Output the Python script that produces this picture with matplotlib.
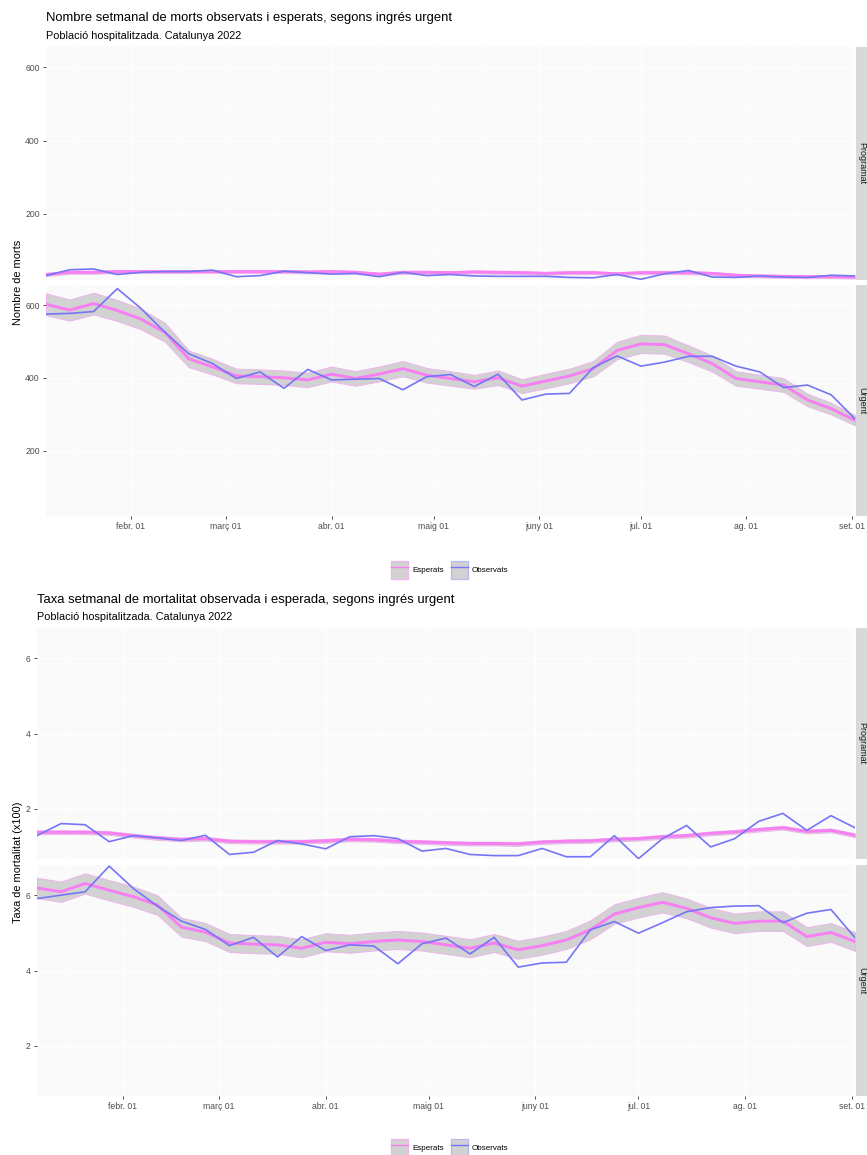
import matplotlib
matplotlib.use("Agg")
import matplotlib.pyplot as plt
from matplotlib.patches import Patch, Rectangle
from matplotlib.lines import Line2D
from matplotlib.legend_handler import HandlerTuple
import pandas as pd

# ---------------- data ----------------
start_date = "2022-01-07"
n_weeks = 35
tick_dates = ["2022-02-01", "2022-03-01", "2022-04-01", "2022-05-01",
              "2022-06-01", "2022-07-01", "2022-08-01", "2022-09-01"]
tick_labels = ["febr. 01", "març 01", "abr. 01", "maig 01",
               "juny 01", "jul. 01", "ag. 01", "set. 01"]
facets = ["Programat", "Urgent"]

# Chart 1: weekly deaths
deaths_prog_obs = [32, 48, 50, 35, 41, 43, 43, 47, 29, 32, 44, 40, 36, 38, 29, 41, 32, 35,
                   31, 30, 30, 30, 27, 26, 35, 22, 37, 46, 28, 27, 31, 28, 27, 33, 31]
deaths_prog_exp = [35, 41, 41, 43, 43, 43, 43, 43, 43, 43, 43, 42, 43, 41, 36, 41, 41, 40,
                   42, 41, 40, 38, 40, 40, 37, 40, 40, 40, 38, 33, 31, 30, 29, 29, 28]
deaths_prog_lo = [31, 37, 37, 39, 39, 39, 39, 39, 39, 39, 39, 38, 39, 37, 32, 37, 37, 36,
                  38, 37, 36, 34, 36, 36, 33, 36, 36, 36, 34, 29, 27, 26, 25, 25, 24]
deaths_prog_hi = [39, 45, 45, 47, 47, 47, 47, 47, 47, 47, 47, 46, 47, 45, 40, 45, 45, 44,
                  46, 45, 44, 42, 44, 44, 41, 44, 44, 44, 42, 37, 35, 34, 33, 33, 32]

deaths_urg_obs = [575, 577, 582, 645, 590, 525, 466, 439, 398, 416, 371, 423, 394, 396, 398,
                  367, 403, 409, 376, 410, 339, 355, 357, 428, 460, 432, 443, 459, 459, 432,
                  416, 373, 380, 353, 287]
deaths_urg_exp = [602, 586, 604, 585, 561, 525, 452, 430, 405, 403, 400, 394, 410, 398, 410,
                  425, 407, 398, 389, 400, 377, 391, 405, 425, 475, 493, 491, 466, 439, 398,
                  389, 380, 339, 315, 283]
deaths_urg_lo = [572, 557, 574, 556, 533, 499, 429, 409, 385, 383, 380, 374, 390, 378, 390,
                 404, 387, 378, 370, 380, 358, 371, 385, 404, 451, 468, 466, 443, 417, 378,
                 370, 361, 322, 299, 269]
deaths_urg_hi = [632, 615, 634, 614, 589, 551, 475, 452, 425, 423, 420, 414, 431, 418, 431,
                 446, 427, 418, 408, 420, 396, 411, 425, 446, 499, 518, 516, 489, 461, 418,
                 408, 399, 356, 331, 297]

# Chart 2: weekly mortality rate (x100)
rate_prog_obs = [1.29, 1.61, 1.58, 1.13, 1.29, 1.23, 1.16, 1.30, 0.79, 0.85, 1.16, 1.07,
                 0.94, 1.26, 1.29, 1.21, 0.88, 0.95, 0.79, 0.76, 0.76, 0.95, 0.73, 0.73,
                 1.29, 0.68, 1.21, 1.56, 0.99, 1.21, 1.67, 1.88, 1.43, 1.82, 1.50]
rate_prog_exp = [1.38, 1.38, 1.38, 1.36, 1.29, 1.23, 1.19, 1.21, 1.14, 1.13, 1.13, 1.13,
                 1.15, 1.19, 1.18, 1.14, 1.12, 1.10, 1.08, 1.08, 1.07, 1.12, 1.14, 1.15,
                 1.19, 1.21, 1.26, 1.29, 1.35, 1.39, 1.45, 1.50, 1.40, 1.43, 1.30]
rate_prog_lo = [1.33, 1.33, 1.33, 1.31, 1.24, 1.18, 1.14, 1.16, 1.09, 1.08, 1.08, 1.08,
                1.10, 1.14, 1.13, 1.09, 1.07, 1.05, 1.03, 1.03, 1.02, 1.07, 1.09, 1.10,
                1.14, 1.16, 1.21, 1.24, 1.30, 1.34, 1.40, 1.45, 1.35, 1.38, 1.25]
rate_prog_hi = [1.43, 1.43, 1.43, 1.41, 1.34, 1.28, 1.24, 1.26, 1.19, 1.18, 1.18, 1.18,
                1.20, 1.24, 1.23, 1.19, 1.17, 1.15, 1.13, 1.13, 1.12, 1.17, 1.19, 1.20,
                1.24, 1.26, 1.31, 1.34, 1.40, 1.44, 1.50, 1.55, 1.45, 1.48, 1.35]

rate_urg_obs = [5.91, 6.00, 6.09, 6.77, 6.18, 5.71, 5.31, 5.09, 4.66, 4.88, 4.36, 4.90,
                4.53, 4.68, 4.65, 4.18, 4.71, 4.86, 4.44, 4.88, 4.09, 4.20, 4.22, 5.08,
                5.30, 4.99, 5.27, 5.56, 5.67, 5.71, 5.72, 5.27, 5.52, 5.62, 4.87]
rate_urg_exp = [6.19, 6.09, 6.31, 6.13, 5.96, 5.74, 5.15, 5.02, 4.73, 4.70, 4.68, 4.59,
                4.75, 4.71, 4.77, 4.81, 4.77, 4.68, 4.59, 4.73, 4.55, 4.66, 4.81, 5.08,
                5.50, 5.67, 5.81, 5.65, 5.40, 5.25, 5.31, 5.31, 4.90, 5.01, 4.77]
rate_urg_lo = [5.92, 5.82, 6.04, 5.86, 5.69, 5.48, 4.90, 4.78, 4.49, 4.46, 4.44, 4.35,
               4.51, 4.47, 4.53, 4.57, 4.53, 4.44, 4.35, 4.49, 4.31, 4.42, 4.57, 4.83,
               5.24, 5.41, 5.54, 5.39, 5.14, 4.99, 5.05, 5.05, 4.65, 4.76, 4.52]
rate_urg_hi = [6.46, 6.36, 6.58, 6.40, 6.23, 6.00, 5.40, 5.26, 4.97, 4.94, 4.92, 4.83,
               4.99, 4.95, 5.01, 5.05, 5.01, 4.92, 4.83, 4.97, 4.79, 4.90, 5.05, 5.33,
               5.76, 5.93, 6.08, 5.91, 5.66, 5.51, 5.57, 5.57, 5.15, 5.26, 5.02]

# ---------------- style ----------------
W, H = 867, 1155
PINK = "#F77EF3"
BLUE = "#7575F6"
RIBBON = "#D2D2D2"
RIBBON_EDGE = "#EDB5EC"
PANEL_BG = "#FAFAFA"
STRIP_BG = "#D9D9D9"
FONT = ["Liberation Sans", "DejaVu Sans"]
plt.rcParams["font.family"] = FONT

dates = pd.date_range(start_date, periods=n_weeks, freq="7D")
ticks = pd.to_datetime(tick_dates)

fig = plt.figure(figsize=(W / 100, H / 100), dpi=100)
fig.patch.set_facecolor("white")


def add_ax(x0, y0, x1, y1):
    return fig.add_axes([x0 / W, 1 - y1 / H, (x1 - x0) / W, (y1 - y0) / H])


def strip(x0, y0, y1, label):
    fig.patches.append(Rectangle((x0 / W, 1 - y1 / H), 20 / W, (y1 - y0) / H,
                                 transform=fig.transFigure, facecolor=STRIP_BG,
                                 edgecolor="none"))
    fig.text((x0 + 5.5) / W, 1 - (y0 + y1) / 2 / H, label, rotation=-90,
             ha="center", va="center", fontsize=6.5, color="#1A1A1A")


def panel(ax, obs, exp, lo, hi, ylim, yticks, ymin_ticks, show_x):
    ax.set_facecolor(PANEL_BG)
    for s in ax.spines.values():
        s.set_visible(False)
    ax.fill_between(dates, lo, hi, facecolor=RIBBON, edgecolor=RIBBON_EDGE,
                    linewidth=0.7, zorder=2)
    ax.plot(dates, exp, color=PINK, lw=2.1, zorder=3, solid_joinstyle="round")
    ax.plot(dates, obs, color=BLUE, lw=1.2, zorder=4, solid_joinstyle="round")
    ax.set_xlim(dates[0], dates[-1])
    ax.set_ylim(*ylim)
    ax.set_yticks(yticks)
    ax.set_yticks(ymin_ticks, minor=True)
    ax.set_xticks(ticks)
    mids = ticks[:-1] + (ticks[1:] - ticks[:-1]) / 2
    ax.set_xticks(list(mids) + [pd.Timestamp("2022-01-16")], minor=True)
    ax.grid(True, which="major", color="white", lw=0.9, zorder=0)
    ax.grid(True, which="minor", color="white", lw=0.5, zorder=0)
    ax.set_axisbelow(True)
    ax.tick_params(axis="y", which="major", length=2.5, width=0.6, color="#333333",
                   labelsize=6.2, labelcolor="#4D4D4D", pad=2)
    ax.tick_params(axis="y", which="minor", length=0)
    ax.tick_params(axis="x", which="minor", length=0)
    if show_x:
        ax.set_xticklabels(tick_labels)
        ax.tick_params(axis="x", which="major", length=2.5, width=0.6, color="#333333",
                       labelsize=6.2, labelcolor="#4D4D4D", pad=2)
    else:
        ax.tick_params(axis="x", which="major", length=0, labelbottom=False)


def legend(ycenter, xcenter=450):
    h1 = (Patch(facecolor=RIBBON, edgecolor=RIBBON_EDGE, lw=0.9),
          Line2D([], [], color=PINK, lw=1.0))
    h2 = (Patch(facecolor=RIBBON, edgecolor="#B8B8F0", lw=0.9),
          Line2D([], [], color=BLUE, lw=1.0))
    fig.legend([h1, h2], ["Esperats", "Observats"],
               handler_map={tuple: HandlerTuple(ndivide=1)},
               loc="center", bbox_to_anchor=(xcenter / W, 1 - ycenter / H),
               ncol=2, frameon=False, fontsize=5.8, handlelength=2.1,
               handleheight=2.9, columnspacing=0.9, handletextpad=0.5,
               borderaxespad=0)


# ---------------- chart 1 ----------------
fig.text(46 / W, 1 - 18 / H, "Nombre setmanal de morts observats i esperats, segons ingrés urgent",
         fontsize=9.4, ha="left", va="center", color="black")
fig.text(46 / W, 1 - 36 / H, "Població hospitalitzada. Catalunya 2022",
         fontsize=7.8, ha="left", va="center", color="black")
ylim1 = (20, 655)
ax1 = add_ax(46, 47, 855, 280)
panel(ax1, deaths_prog_obs, deaths_prog_exp, deaths_prog_lo, deaths_prog_hi,
      ylim1, [200, 400, 600], [100, 300, 500], False)
ax2 = add_ax(46, 285, 855, 516)
panel(ax2, deaths_urg_obs, deaths_urg_exp, deaths_urg_lo, deaths_urg_hi,
      ylim1, [200, 400, 600], [100, 300, 500], True)
strip(856, 47, 280, facets[0])
strip(856, 285, 516, facets[1])
fig.text(18 / W, 1 - 282 / H, "Nombre de morts", rotation=90, fontsize=7.9,
         ha="center", va="center")
legend(570)

# ---------------- chart 2 ----------------
fig.text(37 / W, 1 - 600 / H, "Taxa setmanal de mortalitat observada i esperada, segons ingrés urgent",
         fontsize=9.4, ha="left", va="center", color="black")
fig.text(37 / W, 1 - 617 / H, "Població hospitalitzada. Catalunya 2022",
         fontsize=7.8, ha="left", va="center", color="black")
ylim2 = (0.67, 6.8)
ax3 = add_ax(37, 628, 855, 859)
panel(ax3, rate_prog_obs, rate_prog_exp, rate_prog_lo, rate_prog_hi,
      ylim2, [2, 4, 6], [1, 3, 5], False)
ax4 = add_ax(37, 865, 855, 1096)
panel(ax4, rate_urg_obs, rate_urg_exp, rate_urg_lo, rate_urg_hi,
      ylim2, [2, 4, 6], [1, 3, 5], True)
strip(856, 628, 859, facets[0])
strip(856, 865, 1096, facets[1])
fig.text(18 / W, 1 - 862 / H, "Taxa de mortalitat (x100)", rotation=90, fontsize=7.9,
         ha="center", va="center")
legend(1148)

fig.savefig("out.png", dpi=100, facecolor="white")
